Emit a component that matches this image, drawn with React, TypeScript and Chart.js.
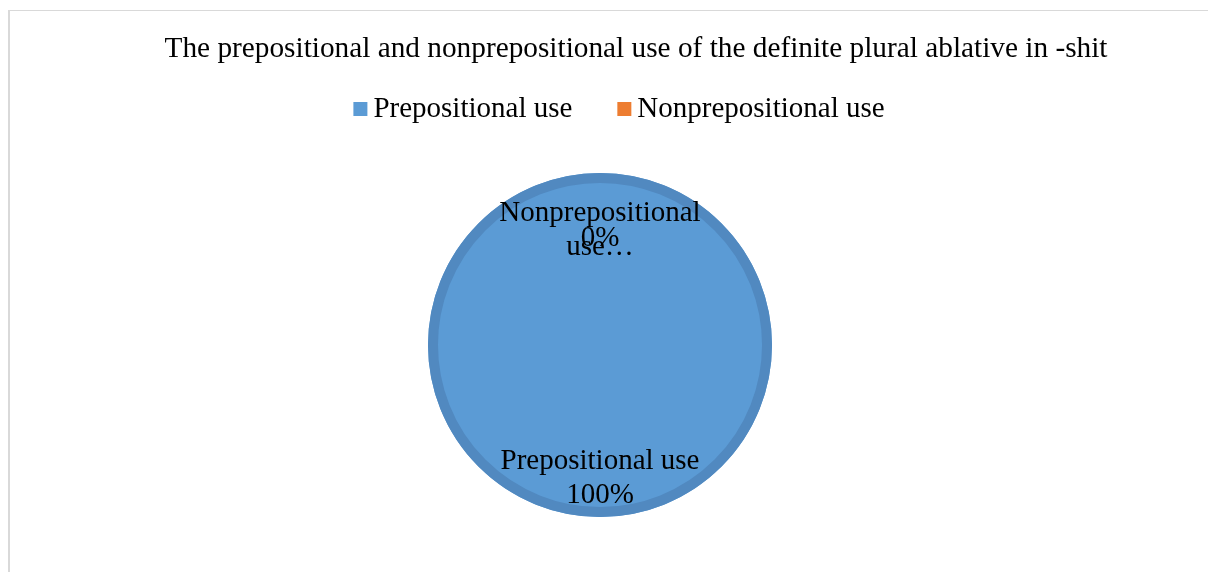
import React, { useEffect, useRef } from "react";
import { Chart, registerables } from "chart.js";

Chart.register(...registerables);

const chartTitle =
  "The prepositional and nonprepositional use of the definite plural ablative in -shit";
const categories = ["Prepositional use", "Nonprepositional use"];
const shares = [100, 0];
const sliceColors = ["#5B9BD5", "#ED7D31"];
const sliceEdgeColors = ["#5189C0", "#D06A26"];

const FONT = "29px 'Liberation Serif', 'Times New Roman', serif";
const TITLE_FONT = "29.3px 'Liberation Serif', 'Times New Roman', serif";
const EDGE_WIDTH = 10;

function wrapText(ctx: CanvasRenderingContext2D, text: string, maxWidth: number): string[] {
  const words = text.split(" ");
  const lines: string[] = [];
  let cur = "";
  for (const w of words) {
    const test = cur ? cur + " " + w : w;
    if (ctx.measureText(test).width > maxWidth && cur) {
      lines.push(cur);
      cur = w;
    } else {
      cur = test;
    }
  }
  if (cur) lines.push(cur);
  return lines;
}

const headerPlugin = {
  id: "excelHeader",
  afterDraw(chart: any) {
    const ctx: CanvasRenderingContext2D = chart.ctx;
    ctx.save();
    ctx.font = TITLE_FONT;
    ctx.fillStyle = "#000000";
    ctx.textBaseline = "alphabetic";
    ctx.textAlign = "center";
    ctx.fillText(chartTitle, 636, 57);

    ctx.font = FONT;
    const box = 14;
    const gapText = 6;
    const gapItem = 45;
    const widths = categories.map((c) => ctx.measureText(c).width);
    const total =
      widths.reduce((s, w) => s + box + gapText + w, 0) + gapItem * (categories.length - 1);
    let x = 619 - total / 2;
    ctx.textAlign = "left";
    categories.forEach((c, i) => {
      ctx.fillStyle = sliceColors[i];
      ctx.fillRect(x, 102, box, box);
      x += box + gapText;
      ctx.fillStyle = "#000000";
      ctx.fillText(c, x, 117);
      x += widths[i] + gapItem;
    });
    ctx.restore();
  },
};

const dataLabelPlugin = {
  id: "excelDataLabels",
  afterDatasetsDraw(chart: any) {
    const meta = chart.getDatasetMeta(0);
    const ctx: CanvasRenderingContext2D = chart.ctx;
    const sum = shares.reduce((a, b) => a + b, 0);
    ctx.save();
    // darker bevel-like edge along each slice's outer rim
    meta.data.forEach((arc: any, i: number) => {
      const { x, y, startAngle, endAngle, outerRadius } = arc.getProps(
        ["x", "y", "startAngle", "endAngle", "outerRadius"],
        true
      );
      if (endAngle - startAngle <= 0) return;
      ctx.beginPath();
      ctx.arc(x, y, outerRadius - EDGE_WIDTH / 2, startAngle, endAngle);
      ctx.strokeStyle = sliceEdgeColors[i];
      ctx.lineWidth = EDGE_WIDTH;
      ctx.stroke();
    });

    ctx.font = FONT;
    ctx.fillStyle = "#000000";
    ctx.textAlign = "center";
    ctx.textBaseline = "alphabetic";
    meta.data.forEach((arc: any, i: number) => {
      const { x, y, startAngle, endAngle, outerRadius } = arc.getProps(
        ["x", "y", "startAngle", "endAngle", "outerRadius"],
        true
      );
      const mid = (startAngle + endAngle) / 2;
      const ax = x + Math.cos(mid) * outerRadius * 0.72;
      const ay = y + Math.sin(mid) * outerRadius * 0.72;
      const lh = 34;
      const lines = wrapText(ctx, categories[i], 215);
      if (lines.length > 1) lines[lines.length - 1] += "…";
      lines.forEach((l, k) => ctx.fillText(l, ax, ay + k * lh));
      const pct = Math.round((shares[i] / sum) * 100) + "%";
      const vy = lines.length > 1 ? ay + (lines.length - 1) * lh - 9 : ay + lines.length * lh;
      ctx.fillText(pct, ax, vy);
    });
    ctx.restore();
  },
};

export default function App() {
  const canvasRef = useRef<HTMLCanvasElement | null>(null);

  useEffect(() => {
    if (!canvasRef.current) return;
    const chart = new Chart(canvasRef.current, {
      type: "pie",
      data: {
        labels: categories,
        datasets: [
          {
            data: shares,
            backgroundColor: sliceColors,
            borderWidth: 0,
            radius: 172,
          } as any,
        ],
      },
      options: {
        responsive: false,
        animation: false,
        devicePixelRatio: 1,
        layout: { padding: { left: 0, right: 8, top: 130, bottom: 12 } },
        plugins: {
          legend: { display: false },
          title: { display: false },
          tooltip: { enabled: false },
        },
      },
      plugins: [headerPlugin, dataLabelPlugin],
    });
    return () => chart.destroy();
  }, []);

  return (
    <div
      style={{
        position: "fixed",
        left: 0,
        top: 0,
        width: 1208,
        height: 572,
        overflow: "hidden",
        background: "#ffffff",
      }}
    >
      <div
        style={{
          position: "absolute",
          left: 8,
          top: 10,
          width: 1400,
          height: 800,
          borderTop: "1px solid #d9d9d9",
          borderLeft: "2px solid #d9d9d9",
          boxSizing: "border-box",
        }}
      />
      <canvas
        ref={canvasRef}
        width={1208}
        height={572}
        style={{ position: "absolute", left: 0, top: 0, width: 1208, height: 572 }}
      />
    </div>
  );
}
